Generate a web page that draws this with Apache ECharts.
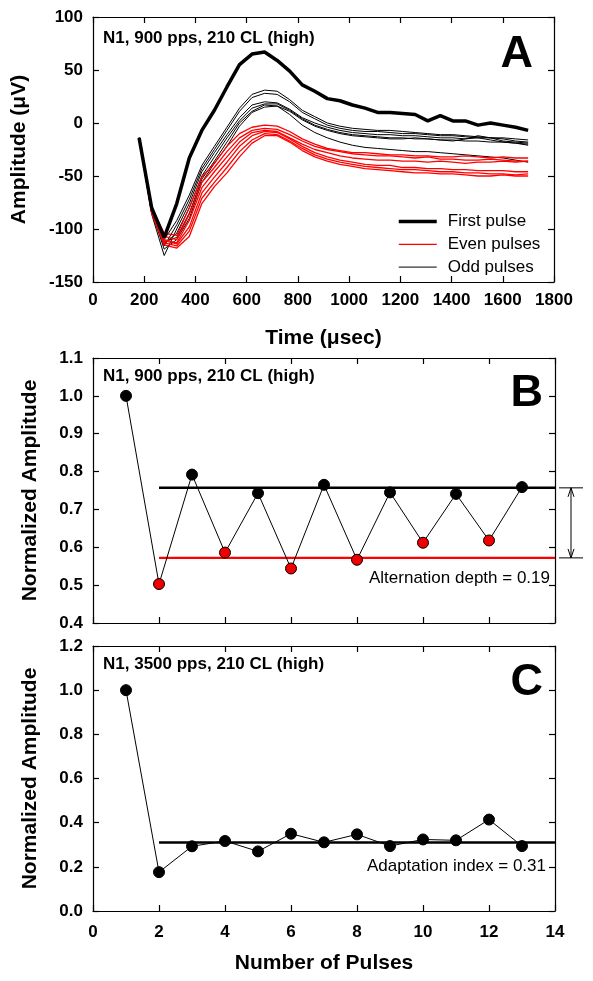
<!DOCTYPE html>
<html><head><meta charset="utf-8">
<script src="https://cdn.jsdelivr.net/npm/echarts@6/dist/echarts.min.js"></script>
<style>html,body{margin:0;padding:0;background:#fff;}#c{width:593px;height:981px;}</style>
</head><body><div id="c"></div>
<script>
// ---------- Panel A data (time in µsec, amplitude in µV) ----------
const times = [180,229,278,327,376,425,474,523,572,621,670,719,768,817,866,915,964,1013,1062,1111,1160,1209,1258,1307,1356,1405,1454,1503,1552,1601,1650,1699];
const firstPulse = [-14,-80,-108,-76,-33,-7,12,34,55,65,67,59,49,36,30,23,21,17,14,10,10,9,8,2,7,2,2,-2,0,-2,-4,-7];
const odd1 = [-14,-82,-110,-92,-68,-40,-22,-4,14,27,31,30,22,12,6,0,-3,-5,-6,-7,-7,-8,-9,-10,-11,-11,-12,-13,-14,-14,-15,-16];
const odd2 = [-14,-84,-116,-96,-72,-43,-25,-7,11,24,28,27,20,10,4,-2,-5,-7,-8,-8,-9,-10,-10,-11,-12,-12,-13,-14,-14,-15,-17,-18];
const odd3 = [-14,-86,-125,-100,-76,-46,-28,-11,5,17,20,19,13,5,0,-4,-7,-9,-10,-11,-11,-12,-12,-13,-14,-14,-15,-12,-14,-17,-18,-19];
const odd4 = [-14,-83,-114,-104,-80,-50,-32,-14,2,14,18,18,12,4,-2,-6,-9,-11,-12,-13,-14,-14,-15,-15,-16,-16,-17,-17,-18,-18,-19,-21];
const odd5 = [-14,-85,-112,-108,-85,-53,-36,-18,0,11,17,16,8,-2,-9,-14,-18,-21,-23,-24,-25,-26,-27,-27,-28,-29,-30,-31,-32,-33,-35,-37];
const odd6 = [-14,-84,-119,-110,-90,-56,-38,-22,-3,10,15,16,11,3,-3,-7,-10,-12,-13,-14,-15,-15,-14,-15,-16,-17,-15,-14,-16,-18,-19,-20];
const even1 = [-14,-80,-104,-106,-80,-51,-38,-22,-10,-4,-2,-3,-8,-15,-20,-24,-26,-28,-28,-29,-30,-30,-31,-31,-32,-32,-31,-32,-33,-32,-33,-33];
const even2 = [-14,-82,-107,-110,-86,-56,-42,-27,-14,-7,-5,-6,-11,-17,-22,-25,-27,-29,-30,-31,-31,-32,-33,-32,-34,-34,-35,-35,-34,-35,-36,-36];
const even3 = [-14,-83,-110,-113,-92,-61,-46,-32,-18,-9,-7,-8,-14,-20,-25,-28,-31,-33,-34,-35,-35,-36,-36,-37,-36,-37,-38,-37,-37,-36,-37,-36];
const even4 = [-14,-83,-111,-114,-98,-66,-51,-37,-22,-12,-8,-9,-15,-22,-28,-32,-35,-37,-39,-40,-40,-42,-42,-43,-43,-44,-44,-45,-45,-45,-46,-46];
const even5 = [-14,-84,-113,-116,-102,-71,-56,-42,-27,-16,-10,-11,-17,-24,-30,-34,-37,-39,-41,-42,-43,-44,-44,-45,-46,-46,-47,-47,-48,-48,-49,-48];
const even6 = [-14,-85,-115,-118,-107,-76,-60,-47,-32,-19,-12,-12,-18,-26,-32,-36,-39,-41,-43,-44,-45,-46,-47,-47,-48,-48,-49,-50,-50,-49,-50,-50];

// ---------- Panels B and C (pulse number vs normalized amplitude) ----------
const pulses = [1,2,3,4,5,6,7,8,9,10,11,12,13];
const panelB = [1.0,0.503,0.792,0.586,0.743,0.544,0.765,0.567,0.745,0.612,0.741,0.618,0.759];
const panelBOddMean = 0.757;
const panelBEvenMean = 0.572;
const panelC = [1.0,0.176,0.293,0.317,0.270,0.350,0.311,0.347,0.294,0.324,0.320,0.414,0.294];
const panelCMean = 0.31;
const refRange = [2,14];

// ---------- Tick settings ----------
const aX = {min:0,max:1800,interval:200};
const aY = {min:-150,max:100,interval:50};
const bX = {min:0,max:14,interval:2};
const bY = {min:0.4,max:1.1,interval:0.1};
const cY = {min:0.0,max:1.2,interval:0.2};

const FONT = '"Liberation Sans", Arial, Helvetica, sans-serif';
const chart = echarts.init(document.getElementById('c'), null, {renderer:'canvas'});

function axis(base, gridIndex, position, showLabels, extra){
  return Object.assign({
    type:'value', gridIndex, position,
    min:base.min, max:base.max, interval:base.interval,
    axisLine:{show:true, onZero:false, lineStyle:{color:'#000', width:1.2}},
    axisTick:{show:true, inside:true, length:6, lineStyle:{color:'#000', width:1.2}},
    axisLabel:{show:showLabels, color:'#000', fontFamily:FONT, fontWeight:'bold', fontSize:17, margin:10, showMinLabel:true, showMaxLabel:true, formatter: v => String(v)},
    splitLine:{show:false},
    nameTextStyle:{color:'#000', fontFamily:FONT, fontWeight:'bold', fontSize:21}
  }, extra||{});
}
const lbl1 = v => v.toFixed(1);

const xAxes = [
  axis(aX,0,'bottom',true,{name:'Time (\u03bcsec)', nameLocation:'middle', nameGap:46}),
  axis(aX,0,'top',false),
  axis(bX,1,'bottom',false),
  axis(bX,1,'top',false),
  axis(bX,2,'bottom',true,{name:'Number of Pulses', nameLocation:'middle', nameGap:42}),
  axis(bX,2,'top',false)
];
xAxes[4].axisLabel.margin = 13;
const yAxes = [
  axis(aY,0,'left',true,{name:'Amplitude (\u03bcV)', nameLocation:'middle', nameGap:63}),
  axis(aY,0,'right',false),
  axis(bY,1,'left',true,{name:'Normalized Amplitude', nameLocation:'middle', nameGap:52}),
  axis(bY,1,'right',false),
  axis(cY,2,'left',true,{name:'Normalized Amplitude', nameLocation:'middle', nameGap:52}),
  axis(cY,2,'right',false)
];
yAxes[2].axisLabel.formatter = lbl1;
yAxes[4].axisLabel.formatter = lbl1;

const pairs = arr => times.map((t,i)=>[t,arr[i]]);
const series = [];
[odd1,odd2,odd3,odd4,odd5,odd6].forEach(a=>series.push({
  type:'line', name:'Odd pulses', xAxisIndex:0, yAxisIndex:0, data:pairs(a),
  symbol:'none', lineStyle:{color:'#000', width:1}, itemStyle:{color:'#000'}, silent:true, animation:false}));
[even1,even2,even3,even4,even5,even6].forEach(a=>series.push({
  type:'line', name:'Even pulses', xAxisIndex:0, yAxisIndex:0, data:pairs(a),
  symbol:'none', lineStyle:{color:'#ff0000', width:1.3}, itemStyle:{color:'#ff0000'}, silent:true, animation:false}));
series.push({type:'line', name:'First pulse', xAxisIndex:0, yAxisIndex:0, data:pairs(firstPulse),
  symbol:'none', lineStyle:{color:'#000', width:3.5}, itemStyle:{color:'#000'}, silent:true, animation:false});

// Panel B reference lines
series.push({type:'line', xAxisIndex:2, yAxisIndex:2, data:refRange.map(x=>[x,panelBOddMean]), symbol:'none', lineStyle:{color:'#000', width:2.5}, animation:false, silent:true});
series.push({type:'line', xAxisIndex:2, yAxisIndex:2, data:refRange.map(x=>[x,panelBEvenMean]), symbol:'none', lineStyle:{color:'#ff0000', width:2.2}, animation:false, silent:true});
series.push({type:'line', xAxisIndex:2, yAxisIndex:2,
  data:pulses.map((p,i)=>({value:[p,panelB[i]], itemStyle:{color:(p%2===0)?'#ee0000':'#000'}})),
  symbol:'circle', symbolSize:11, lineStyle:{color:'#000', width:1},
  itemStyle:{borderColor:'#000', borderWidth:1, opacity:1}, animation:false, silent:true});
// Panel C
series.push({type:'line', xAxisIndex:4, yAxisIndex:4, data:refRange.map(x=>[x,panelCMean]), symbol:'none', lineStyle:{color:'#000', width:2.5}, animation:false, silent:true});
series.push({type:'line', xAxisIndex:4, yAxisIndex:4, data:pulses.map((p,i)=>[p,panelC[i]]),
  symbol:'circle', symbolSize:11, lineStyle:{color:'#000', width:1},
  itemStyle:{color:'#000', borderColor:'#000', borderWidth:1}, animation:false, silent:true});

const txt = (x,y,text,opt) => Object.assign({type:'text', x, y, style:Object.assign({text, fill:'#000', font:'17px '+FONT, textVerticalAlign:'middle'}, opt||{})});

chart.setOption({
  animation:false,
  backgroundColor:'#fff',
  grid:[
    {left:93, top:17, width:461, height:265},
    {left:93, top:358, width:462, height:265},
    {left:93, top:646, width:462, height:265}
  ],
  xAxis:xAxes, yAxis:yAxes,
  legend:{
    data:[
      {name:'First pulse', lineStyle:{width:3.5, color:'#000'}},
      {name:'Even pulses', lineStyle:{width:1.3, color:'#ff0000'}},
      {name:'Odd pulses', lineStyle:{width:1, color:'#000'}}
    ],
    orient:'vertical', left:397, top:213, padding:0,
    itemWidth:38, itemHeight:14, itemGap:5.8, selectedMode:false,
    itemStyle:{opacity:0, borderWidth:0},
    textStyle:{color:'#000', fontFamily:FONT, fontSize:17, padding:[0,0,0,6]}
  },
  series
});

// annotations positioned through the axes
const pA = (v)=>chart.convertToPixel({gridIndex:1},[14,v]);
const up = pA(panelBOddMean), lo = pA(panelBEvenMean);
const xr = up[0];
const ax = xr + 16;
const graphics = [
  txt(103, 38, 'N1, 900 pps, 210 CL (high)', {font:'bold 17px '+FONT}),
  txt(103, 376, 'N1, 900 pps, 210 CL (high)', {font:'bold 17px '+FONT}),
  txt(103, 664, 'N1, 3500 pps, 210 CL (high)', {font:'bold 17px '+FONT}),
  txt(533, 55, 'A', {font:'bold 45px '+FONT, textAlign:'right'}),
  txt(543, 394, 'B', {font:'bold 45px '+FONT, textAlign:'right'}),
  txt(543, 683, 'C', {font:'bold 45px '+FONT, textAlign:'right'}),
  txt(550, 578, 'Alternation depth = 0.19', {textAlign:'right'}),
  txt(546, 866, 'Adaptation index = 0.31', {textAlign:'right'}),
  {type:'line', shape:{x1:xr+4, y1:up[1], x2:xr+28, y2:up[1]}, style:{stroke:'#000', lineWidth:1}},
  {type:'line', shape:{x1:xr+4, y1:lo[1], x2:xr+28, y2:lo[1]}, style:{stroke:'#000', lineWidth:1}},
  {type:'line', shape:{x1:ax, y1:up[1], x2:ax, y2:lo[1]}, style:{stroke:'#000', lineWidth:1}},
  {type:'polyline', shape:{points:[[ax-3,up[1]+9],[ax,up[1]],[ax+3,up[1]+9]]}, style:{stroke:'#000', fill:null, lineWidth:1}},
  {type:'polyline', shape:{points:[[ax-3,lo[1]-9],[ax,lo[1]],[ax+3,lo[1]-9]]}, style:{stroke:'#000', fill:null, lineWidth:1}}
];
chart.setOption({graphic:graphics});
</script>
</body></html>
